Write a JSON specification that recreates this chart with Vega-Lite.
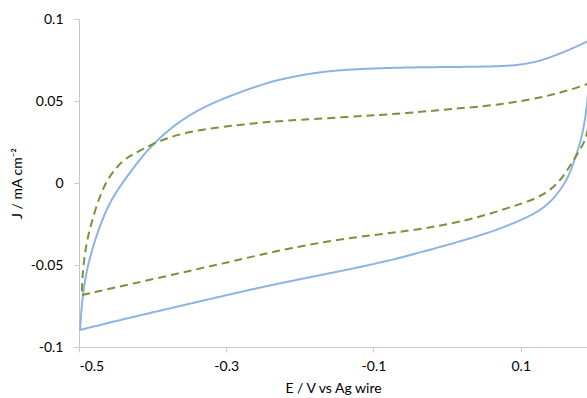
{
  "$schema": "https://vega.github.io/schema/vega-lite/v6.json",
  "width": 508,
  "height": 328,
  "autosize": {"type": "none"},
  "padding": {"left": 79, "top": 19, "right": 0, "bottom": 51},
  "background": "white",
  "config": {
    "view": {"stroke": null},
    "axis": {"labelFont": "Lato", "titleFont": "Lato", "labelFontSize": 14, "titleFontSize": 14, "titleFontWeight": "normal", "labelColor": "#000000", "titleColor": "#000000", "domainColor": "#c8c8c8", "tickColor": "#c8c8c8", "tickSize": 5, "grid": false}
  },
  "data": {
    "values": [
      {"s": "A", "i": 1, "E": -0.4986, "J": -0.0896},
      {"s": "A", "i": 2, "E": -0.444, "J": -0.0835},
      {"s": "A", "i": 3, "E": -0.3628, "J": -0.075},
      {"s": "A", "i": 4, "E": -0.2962, "J": -0.068},
      {"s": "A", "i": 5, "E": -0.2269, "J": -0.061},
      {"s": "A", "i": 6, "E": -0.1359, "J": -0.053},
      {"s": "A", "i": 7, "E": -0.0815, "J": -0.0476},
      {"s": "A", "i": 8, "E": -0.0503, "J": -0.044},
      {"s": "A", "i": 9, "E": 0.0272, "J": -0.0345},
      {"s": "A", "i": 10, "E": 0.0761, "J": -0.0274},
      {"s": "A", "i": 11, "E": 0.1223, "J": -0.0183},
      {"s": "A", "i": 12, "E": 0.144, "J": -0.0104},
      {"s": "A", "i": 13, "E": 0.163, "J": 0.0018},
      {"s": "A", "i": 14, "E": 0.1712, "J": 0.0115},
      {"s": "A", "i": 15, "E": 0.1807, "J": 0.0244},
      {"s": "A", "i": 16, "E": 0.1848, "J": 0.0323},
      {"s": "A", "i": 17, "E": 0.19, "J": 0.046},
      {"s": "A", "i": 18, "E": 0.193, "J": 0.065},
      {"s": "A", "i": 19, "E": 0.196, "J": 0.088},
      {"s": "A", "i": 20, "E": 0.19, "J": 0.086},
      {"s": "A", "i": 21, "E": 0.14, "J": 0.0762},
      {"s": "A", "i": 22, "E": 0.1087, "J": 0.0725},
      {"s": "A", "i": 23, "E": 0.072, "J": 0.0708},
      {"s": "A", "i": 24, "E": -0.0503, "J": 0.0707},
      {"s": "A", "i": 25, "E": -0.1359, "J": 0.0693},
      {"s": "A", "i": 26, "E": -0.182, "J": 0.0672},
      {"s": "A", "i": 27, "E": -0.2269, "J": 0.0632},
      {"s": "A", "i": 28, "E": -0.2541, "J": 0.0598},
      {"s": "A", "i": 29, "E": -0.3179, "J": 0.0494},
      {"s": "A", "i": 30, "E": -0.3628, "J": 0.0384},
      {"s": "A", "i": 31, "E": -0.4035, "J": 0.0225},
      {"s": "A", "i": 32, "E": -0.4307, "J": 0.0065},
      {"s": "A", "i": 33, "E": -0.4579, "J": -0.0104},
      {"s": "A", "i": 34, "E": -0.4755, "J": -0.0305},
      {"s": "A", "i": 35, "E": -0.4891, "J": -0.051},
      {"s": "A", "i": 36, "E": -0.4959, "J": -0.071},
      {"s": "A", "i": 37, "E": -0.4986, "J": -0.0896},
      {"s": "B", "i": 1, "E": -0.4959, "J": -0.0683},
      {"s": "B", "i": 2, "E": -0.3628, "J": -0.0549},
      {"s": "B", "i": 3, "E": -0.2717, "J": -0.0457},
      {"s": "B", "i": 4, "E": -0.2133, "J": -0.0396},
      {"s": "B", "i": 5, "E": -0.1359, "J": -0.0335},
      {"s": "B", "i": 6, "E": -0.0503, "J": -0.0293},
      {"s": "B", "i": 7, "E": 0.0272, "J": -0.0232},
      {"s": "B", "i": 8, "E": 0.0856, "J": -0.0148},
      {"s": "B", "i": 9, "E": 0.1223, "J": -0.0095},
      {"s": "B", "i": 10, "E": 0.144, "J": -0.003},
      {"s": "B", "i": 11, "E": 0.1576, "J": 0.0037},
      {"s": "B", "i": 12, "E": 0.1712, "J": 0.0135},
      {"s": "B", "i": 13, "E": 0.1848, "J": 0.0235},
      {"s": "B", "i": 14, "E": 0.19, "J": 0.029},
      {"s": "B", "i": 15, "E": 0.196, "J": 0.045},
      {"s": "B", "i": 16, "E": 0.199, "J": 0.062},
      {"s": "B", "i": 17, "E": 0.19, "J": 0.06},
      {"s": "B", "i": 18, "E": 0.14, "J": 0.053},
      {"s": "B", "i": 19, "E": 0.072, "J": 0.0476},
      {"s": "B", "i": 20, "E": 0.004, "J": 0.0451},
      {"s": "B", "i": 21, "E": -0.0503, "J": 0.0427},
      {"s": "B", "i": 22, "E": -0.1359, "J": 0.0402},
      {"s": "B", "i": 23, "E": -0.2269, "J": 0.0378},
      {"s": "B", "i": 24, "E": -0.2541, "J": 0.0368},
      {"s": "B", "i": 25, "E": -0.3084, "J": 0.0341},
      {"s": "B", "i": 26, "E": -0.3628, "J": 0.0305},
      {"s": "B", "i": 27, "E": -0.4035, "J": 0.0232},
      {"s": "B", "i": 28, "E": -0.4266, "J": 0.0175},
      {"s": "B", "i": 29, "E": -0.4402, "J": 0.014},
      {"s": "B", "i": 30, "E": -0.4579, "J": 0.005},
      {"s": "B", "i": 31, "E": -0.4715, "J": -0.007},
      {"s": "B", "i": 32, "E": -0.485, "J": -0.0268},
      {"s": "B", "i": 33, "E": -0.4918, "J": -0.041},
      {"s": "B", "i": 34, "E": -0.4959, "J": -0.059},
      {"s": "B", "i": 35, "E": -0.4959, "J": -0.0683}
    ]
  },
  "mark": {"type": "line", "clip": true, "strokeWidth": 2, "interpolate": "basis"},
  "encoding": {
    "x": {"field": "E", "type": "quantitative", "scale": {"domain": [-0.5, 0.19], "nice": false, "zero": false}, "axis": {"values": [-0.5, -0.3, -0.1, 0.1], "labelExpr": "'' + datum.value", "title": "E / V vs Ag wire", "labelPadding": 7, "titlePadding": 8}},
    "y": {"field": "J", "type": "quantitative", "scale": {"domain": [-0.1, 0.1], "nice": false}, "axis": {"values": [-0.1, -0.05, 0, 0.05, 0.1], "labelExpr": "'' + datum.value", "title": "J / mA cm⁻²", "labelPadding": 11, "titlePadding": 6}},
    "order": {"field": "i", "type": "quantitative"},
    "color": {"field": "s", "type": "nominal", "scale": {"domain": ["A", "B"], "range": ["#8db3e2", "#77933c"]}, "legend": null},
    "strokeDash": {"field": "s", "type": "nominal", "scale": {"domain": ["A", "B"], "range": [[1, 0], [8, 5]]}, "legend": null}
  }
}
